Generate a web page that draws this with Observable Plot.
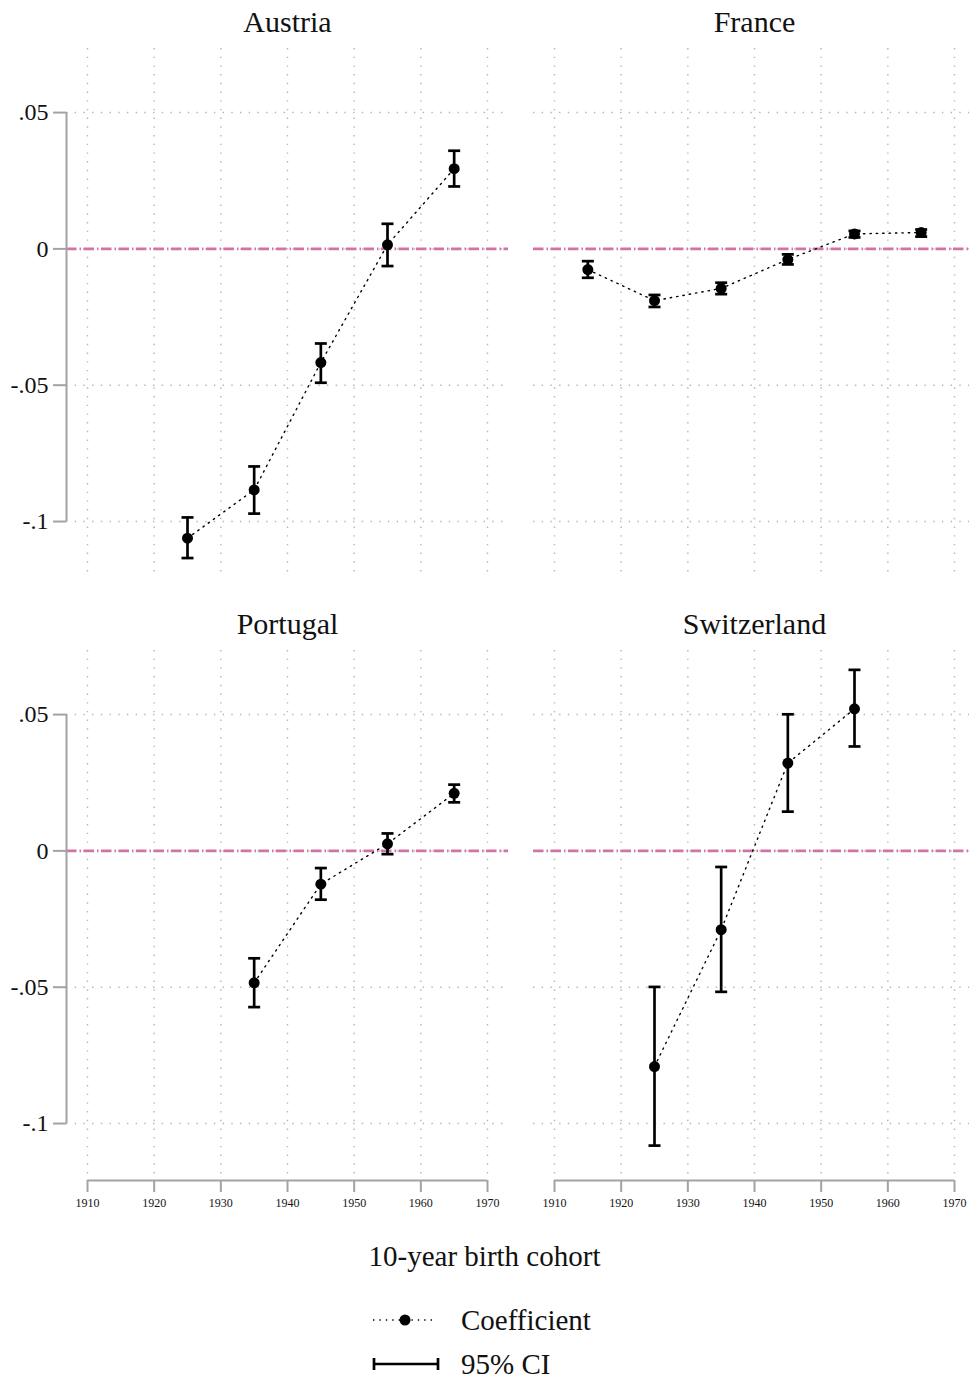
<!DOCTYPE html>
<html>
<head>
<meta charset="utf-8">
<script src="https://cdn.jsdelivr.net/npm/d3@7"></script>
<script src="https://cdn.jsdelivr.net/npm/@observablehq/plot@0.6"></script>
<style>
  html, body { margin: 0; padding: 0; background: #fff; }
  #fig { position: relative; width: 969px; height: 1379px; overflow: hidden; font-family: "Liberation Serif", "DejaVu Serif", serif; color: #111; }
  #chart { position: absolute; left: 0; top: 0; width: 975px; }
  #chart svg { max-width: none !important; }
  #xtitle { position: absolute; left: 0; width: 969px; top: 1237px; text-align: center; font-size: 29px; line-height: 38px; }
  #legend { position: absolute; left: 0; top: 1296px; }
</style>
</head>
<body>
<div id="fig">
  <div id="chart"></div>
  <div id="xtitle">10-year birth cohort</div>
  <svg id="legend" width="969" height="83"></svg>
</div>
<script>
// Cohort coefficients with 95% confidence bounds, by country
const countries = ["Austria", "France", "Portugal", "Switzerland"];

const austriaYears = [1925, 1935, 1945, 1955, 1965];
const austriaCoef  = [-0.1061, -0.0884, -0.0417, 0.0015, 0.0294];
const austriaLo    = [-0.1134, -0.0971, -0.0491, -0.0063, 0.0229];
const austriaHi    = [-0.0985, -0.0798, -0.0347, 0.0092, 0.0360];

const franceYears = [1915, 1925, 1935, 1945, 1955, 1965];
const franceCoef  = [-0.0076, -0.0190, -0.0145, -0.0039, 0.0055, 0.0060];
const franceLo    = [-0.0106, -0.0213, -0.0166, -0.0057, 0.0042, 0.0045];
const franceHi    = [-0.0045, -0.0169, -0.0124, -0.0020, 0.0066, 0.0071];

const portugalYears = [1935, 1945, 1955, 1965];
const portugalCoef  = [-0.0484, -0.0122, 0.0026, 0.0211];
const portugalLo    = [-0.0573, -0.0179, -0.0012, 0.0178];
const portugalHi    = [-0.0394, -0.0063, 0.0064, 0.0243];

const switzerlandYears = [1925, 1935, 1945, 1955];
const switzerlandCoef  = [-0.0791, -0.0289, 0.0322, 0.0521];
const switzerlandLo    = [-0.1081, -0.0517, 0.0144, 0.0383];
const switzerlandHi    = [-0.0499, -0.0059, 0.0501, 0.0664];

const xTicks = [1910, 1920, 1930, 1940, 1950, 1960, 1970];
const yTicks = [-0.1, -0.05, 0, 0.05];

// Panel grid: two columns, two rows
const panels = countries.map((name, i) => ({name, col: i % 2, row: Math.floor(i / 2)}));

const series = [
  [austriaYears, austriaCoef, austriaLo, austriaHi],
  [franceYears, franceCoef, franceLo, franceHi],
  [portugalYears, portugalCoef, portugalLo, portugalHi],
  [switzerlandYears, switzerlandCoef, switzerlandLo, switzerlandHi]
];

const rows = [];
series.forEach(([yrs, coef, lo, hi], i) => {
  yrs.forEach((year, j) => rows.push({
    country: panels[i].name, col: panels[i].col, row: panels[i].row,
    year, coef: coef[j], lo: lo[j], hi: hi[j]
  }));
});

const xDomain = [1906.85, 1973.15];
const yDomain = [-0.1209, 0.0735];

const axisGray = "#a3a3a3";
const gridGray = "#b5b5b5";
const refPink = "#cf74a8";

// Horizontal cap drawn as a dot symbol: a segment of width 2r
const capSymbol = {
  draw(context, size) {
    const w = Math.sqrt(size / Math.PI);
    context.moveTo(-w, 0);
    context.lineTo(w, 0);
  }
};

const fmtY = d => d === 0 ? "0" : String(d).replace("0.", ".");

const leftPanels = panels.filter(p => p.col === 0);
const bottomPanels = panels.filter(p => p.row === 1);

const chart = Plot.plot({
  width: 975,
  height: 1220,
  marginTop: 48,
  marginBottom: 40,
  marginLeft: 66,
  marginRight: 0,
  style: {fontFamily: "'Liberation Serif', 'DejaVu Serif', serif", background: "white", color: "#111", maxWidth: "none"},
  x: {domain: xDomain},
  y: {domain: yDomain},
  fx: {axis: null, domain: [0, 1], paddingInner: 25 / 467, paddingOuter: 0, round: false},
  fy: {axis: null, domain: [0, 1], paddingInner: 72 / 602, paddingOuter: 0, round: false},
  marks: [
    // dotted grid
    Plot.gridX({ticks: xTicks, stroke: gridGray, strokeOpacity: 1, strokeWidth: 1.4, strokeDasharray: "1.4,7.3"}),
    Plot.gridY({ticks: yTicks, stroke: gridGray, strokeOpacity: 1, strokeWidth: 1.4, strokeDasharray: "1.4,7.3"}),
    // reference line at zero
    Plot.ruleY([0], {stroke: refPink, strokeWidth: 2.8, strokeDasharray: "10.5,3,1.5,2.5"}),
    // y axis line and ticks (left column only)
    Plot.ruleX(leftPanels, {fx: "col", fy: "row", x: () => xDomain[0], y1: () => yTicks[0], y2: () => yTicks[yTicks.length - 1], stroke: axisGray, strokeWidth: 2}),
    Plot.axisY({anchor: "left", ticks: yTicks, tickFormat: fmtY, tickSize: 13, tickPadding: 5, fontSize: 24, stroke: axisGray, strokeWidth: 2, fill: "#111", label: null}),
    // x axis line and ticks (bottom row only)
    Plot.ruleY(bottomPanels, {fx: "col", fy: "row", y: () => yDomain[0], x1: () => xTicks[0], x2: () => xTicks[xTicks.length - 1], stroke: axisGray, strokeWidth: 2}),
    Plot.axisX({anchor: "bottom", ticks: xTicks, tickFormat: d => String(d), tickSize: 12, tickPadding: 6, fontSize: 12, stroke: axisGray, strokeWidth: 2, fill: "#111", label: null}),
    // coefficient path
    Plot.line(rows, {fx: "col", fy: "row", x: "year", y: "coef", z: "country", stroke: "black", strokeWidth: 1.4, strokeDasharray: "1.4,5"}),
    // 95% confidence intervals
    Plot.ruleX(rows, {fx: "col", fy: "row", x: "year", y1: "lo", y2: "hi", stroke: "black", strokeWidth: 2.7}),
    Plot.dot(rows, {fx: "col", fy: "row", x: "year", y: "lo", symbol: capSymbol, r: 6, stroke: "black", strokeWidth: 2.7, fill: "none"}),
    Plot.dot(rows, {fx: "col", fy: "row", x: "year", y: "hi", symbol: capSymbol, r: 6, stroke: "black", strokeWidth: 2.7, fill: "none"}),
    // point estimates
    Plot.dot(rows, {fx: "col", fy: "row", x: "year", y: "coef", r: 5.5, fill: "black", stroke: "none"}),
    // panel titles
    Plot.text(panels, {fx: "col", fy: "row", text: "name", frameAnchor: "top", lineAnchor: "middle", dy: -26, fontSize: 30, fill: "#111"})
  ]
});
document.getElementById("chart").append(chart);

// Legend symbols
const lg = d3.select("#legend");
const y1 = 24, y2 = 68;
lg.append("line").attr("x1", 373).attr("x2", 437).attr("y1", y1).attr("y2", y1)
  .attr("stroke", "black").attr("stroke-width", 1.4).attr("stroke-dasharray", "1.4,5");
lg.append("circle").attr("cx", 405).attr("cy", y1).attr("r", 5.5).attr("fill", "black");
lg.append("text").attr("x", 461).attr("y", y1).attr("dy", "0.35em")
  .attr("font-size", 29).attr("fill", "#111").text("Coefficient");
lg.append("line").attr("x1", 374).attr("x2", 438).attr("y1", y2).attr("y2", y2)
  .attr("stroke", "black").attr("stroke-width", 2.7);
[374, 438].forEach(x => lg.append("line").attr("x1", x).attr("x2", x).attr("y1", y2 - 6).attr("y2", y2 + 6)
  .attr("stroke", "black").attr("stroke-width", 2.7));
lg.append("text").attr("x", 461).attr("y", y2).attr("dy", "0.35em")
  .attr("font-size", 29).attr("fill", "#111").text("95% CI");
</script>
</body>
</html>
